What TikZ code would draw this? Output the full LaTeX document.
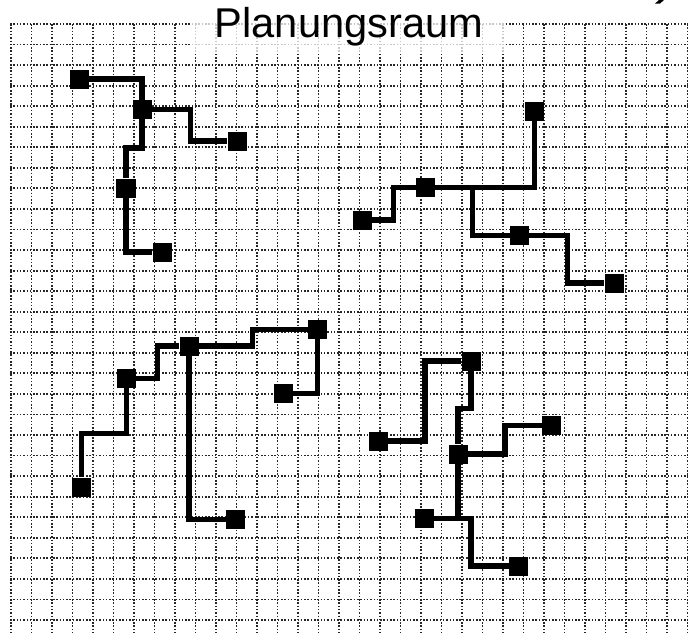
\documentclass[tikz,border=0pt]{standalone}
\usepackage{fontspec}
\newfontfamily\titlefont{Liberation Sans}

\begin{document}
\begin{tikzpicture}[x=0.025cm, y=-0.025cm,
    gridline/.style={black!85, line width=1.3pt, dash pattern=on 1.1pt off 1.25pt},
    stn/.style={rectangle, fill=black, inner sep=0pt, minimum size=0.475cm},
    link/.style={line width=3.8pt, line join=miter}]
  \useasboundingbox (0,0) rectangle (688,633);
  % dotted planning grid
  \foreach \k in {0,...,33}
    \draw[gridline] ({11+20.5*\k},24) -- ({11+20.5*\k},633);
  \foreach \j in {0,...,29}
    \draw[gridline] (10,{24+20.55*\j}) -- (688,{24+20.55*\j});
  \fill[white, opacity=0.75] (190,0) rectangle (505,54);
  \node[anchor=base, inner sep=0pt] (title) at (349,37.3)
    {\titlefont\fontsize{29.6}{30}\selectfont Planungsraum};
  \fill (655,3.5) -- (659,0) -- (664,0) -- (660,3.5) -- cycle;

  % tree top left
  \node[stn] (a1) at (79.5,79) {};
  \node[stn] (a2) at (142,109.7) {};
  \node[stn] (a3) at (237,141) {};
  \node[stn] (a4) at (126,188) {};
  \node[stn] (a5) at (162,252) {};
  \coordinate (b1) at (190.5,141);
  \coordinate (b2) at (126,148);
  \draw[link] (a1) -| (a2);
  \draw[link] (a2) -| (b1) -- (a3);
  \draw[link] (a2) |- (b2) -- (a4);
  \draw[link] (a4) |- (a5);

  % tree top right
  \node[stn] (c1) at (534.5,111) {};
  \node[stn] (c2) at (425.5,187.5) {};
  \node[stn] (c3) at (362,220) {};
  \node[stn] (c4) at (519.5,235.5) {};
  \node[stn] (c5) at (614,283) {};
  \coordinate (d1) at (393.3,220);
  \coordinate (d2) at (472.3,187.5);
  \coordinate (d3) at (567.7,283);
  \draw[link] (c1) |- (c2);
  \draw[link] (c2) -| (d1) -- (c3);
  \draw[link] (d2) |- (c4);
  \draw[link] (c4) -| (d3) -- (c5);

  % tree bottom left
  \node[stn] (e1) at (317.5,329.7) {};
  \node[stn] (e2) at (189,346) {};
  \node[stn] (e3) at (126.3,378.3) {};
  \node[stn] (e4) at (81.3,487) {};
  \node[stn] (e5) at (283.7,393.3) {};
  \node[stn] (e6) at (235.5,519.5) {};
  \coordinate (f1) at (252.7,346);
  \coordinate (f2) at (157.3,378.3);
  \coordinate (f3) at (81.3,433.3);
  \draw[link] (e1) -| (f1) -- (e2);
  \draw[link] (e2) -| (f2) -- (e3);
  \draw[link] (e3) |- (f3) -- (e4);
  \draw[link] (e1) |- (e5);
  \draw[link] (e2) |- (e6);

  % tree bottom right
  \node[stn] (g1) at (471,361) {};
  \node[stn] (g2) at (378,441) {};
  \node[stn] (g3) at (458,454) {};
  \node[stn] (g4) at (551.7,425.5) {};
  \node[stn] (g5) at (424.5,518.3) {};
  \node[stn] (g6) at (518.8,566) {};
  \coordinate (h1) at (425,441);
  \coordinate (h2) at (458,408.3);
  \coordinate (h3) at (505,425.5);
  \coordinate (h4) at (458,518.3);
  \coordinate (h5) at (471,566);
  \draw[link] (g1) -| (h1) -- (g2);
  \draw[link] (g1) |- (h2) -- (g3);
  \draw[link] (g3) -| (h3) -- (g4);
  \draw[link] (g3) |- (g5);
  \draw[link] (h4) -| (h5) -- (g6);
\end{tikzpicture}
\end{document}
